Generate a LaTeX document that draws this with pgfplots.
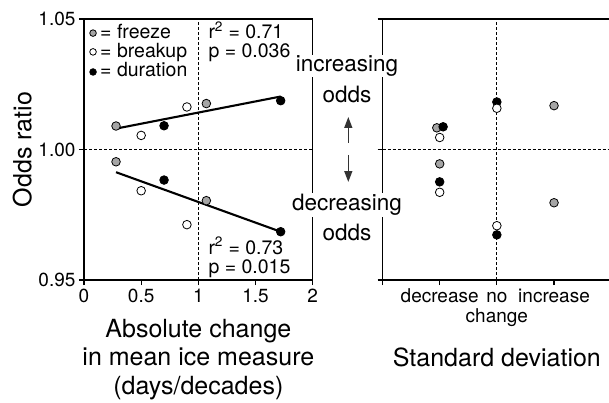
\documentclass[border=0pt]{standalone}
\usepackage{fontspec}
\setmainfont{TeX Gyre Heros}
\usepackage{pgfplots}
\pgfplotsset{compat=1.18}
\usetikzlibrary{arrows.meta}
\definecolor{frzgray}{RGB}{165,165,165}

\tikzset{note/.style={anchor=base west, inner sep=0pt, font=\fontsize{19.5}{20}\selectfont}}
\pgfplotsset{
  panel/.style={
    scale only axis, width=228.7pt, height=261pt, anchor=south west,
    ymin=0.95, ymax=1.05, ytick={0.95,1,1.05},
    tick align=outside, tick pos=left, major tick length=5pt,
    axis line style={line width=1.1pt},
    every tick/.append style={black, line width=1.1pt},
    ticklabel style={font=\fontsize{19}{19.5}\selectfont},
    /pgf/number format/assume math mode=true,
    label style={font=\fontsize{25}{28.5}\selectfont},
    clip=false,
  },
  refline/.style={black, line width=0.9pt, dash pattern=on 3pt off 2pt},
  freeze/.style={only marks, mark=*, mark size=4.3pt, mark options={fill=frzgray, draw=black, line width=0.8pt}},
  breakup/.style={only marks, mark=*, mark size=4.3pt, mark options={fill=white, draw=black, line width=0.8pt}},
  duration/.style={only marks, mark=*, mark size=4.3pt, mark options={fill=black, draw=black, line width=0.8pt}},
}

\begin{document}
\begin{tikzpicture}
% left panel: odds ratio vs absolute change
\begin{axis}[panel, at={(84pt,122pt)},
  xmin=0, xmax=2, xtick={0,0.5,1,1.5,2},
  yticklabel style={/pgf/number format/.cd, fixed, fixed zerofill, precision=2},
  ylabel={Odds ratio},
  ylabel style={at={(axis description cs:-0.27,0.5)}, anchor=center},
  xlabel={Absolute change\\in mean ice measure\\(days/decades)},
  xlabel style={align=center, at={(axis description cs:0.5,0)}, anchor=north, yshift=-39pt, inner sep=0pt},
]
\addplot[refline] coordinates {(1,0.95) (1,1.05)};
\addplot[refline] coordinates {(0,1) (2,1)};
% fitted lines
\addplot[black, line width=2.1pt] coordinates {(0.28,1.0080) (1.72,1.0203)};
\addplot[black, line width=2.1pt] coordinates {(0.28,0.9913) (1.72,0.9685)};
\addplot[freeze] coordinates {(0.28,1.0090) (1.07,1.0176) (0.28,0.9953) (1.07,0.9804)};
\addplot[duration] coordinates {(0.70,1.0091) (1.72,1.0187) (0.70,0.9883) (1.72,0.9685)};
\addplot[breakup] coordinates {(0.50,1.0054) (0.90,1.0163) (0.50,0.9842) (0.90,0.9712)};
% key
\addplot[freeze, mark size=3.3pt] coordinates {(0.079,1.0446)};
\addplot[breakup, mark size=3.3pt] coordinates {(0.079,1.0374)};
\addplot[duration, mark size=3.3pt] coordinates {(0.079,1.0297)};
\node[note] at (axis cs:0.14,1.04234) {= freeze};
\node[note] at (axis cs:0.14,1.03506) {= breakup};
\node[note] at (axis cs:0.14,1.02778) {= duration};
\node[note] at (axis cs:1.087,1.04234) {r\textsuperscript{2} = 0.71};
\node[note] at (axis cs:1.087,1.03506) {p = 0.036};
\node[note] at (axis cs:1.087,0.95996) {r\textsuperscript{2} = 0.73};
\node[note] at (axis cs:1.087,0.95268) {p = 0.015};
\end{axis}

% right panel: standard deviation
\begin{axis}[panel, at={(382.5pt,122pt)},
  xmin=0, xmax=4, xtick={0,1,2,3,4},
  xticklabels={,{\strut decrease},{\strut no\\change},{\strut increase},},
  xticklabel style={align=center},
  yticklabels={},
  xlabel={Standard deviation},
  xlabel style={at={(axis description cs:0.5,0)}, anchor=north, yshift=-68pt, inner sep=0pt},
]
\addplot[refline] coordinates {(2,0.95) (2,1.05)};
\addplot[refline] coordinates {(0,1) (4,1)};
\addplot[freeze] coordinates {(0.95,1.0083) (1,0.9945) (3,1.0168) (3,0.9796)};
\addplot[duration] coordinates {(1.06,1.0087) (1,0.9876) (2,1.0182) (2,0.9673)};
\addplot[breakup] coordinates {(1,1.0046) (1,0.9836) (2,1.0158) (2,0.9708)};
\end{axis}

% labels between the panels
\begin{scope}[every node/.style={fill=white, inner sep=1pt, font=\fontsize{22.5}{27}\selectfont}]
\node at (347pt,336pt) {increasing};
\node[fill=none] at (347pt,308pt) {odds};
\node at (347pt,197pt) {decreasing};
\node[fill=none] at (347pt,170pt) {odds};
\end{scope}
\draw[line width=1.4pt, black!80, -{Triangle[length=11pt,width=8pt]}] (348.3pt,259pt) -- (348.3pt,285pt);
\draw[line width=1.4pt, black!80, -{Triangle[length=11pt,width=8pt]}] (348.3pt,247pt) -- (348.3pt,220pt);

\pgfresetboundingbox
\path[use as bounding box] (0pt,0pt) rectangle (609pt,402pt);
\end{tikzpicture}
\end{document}
